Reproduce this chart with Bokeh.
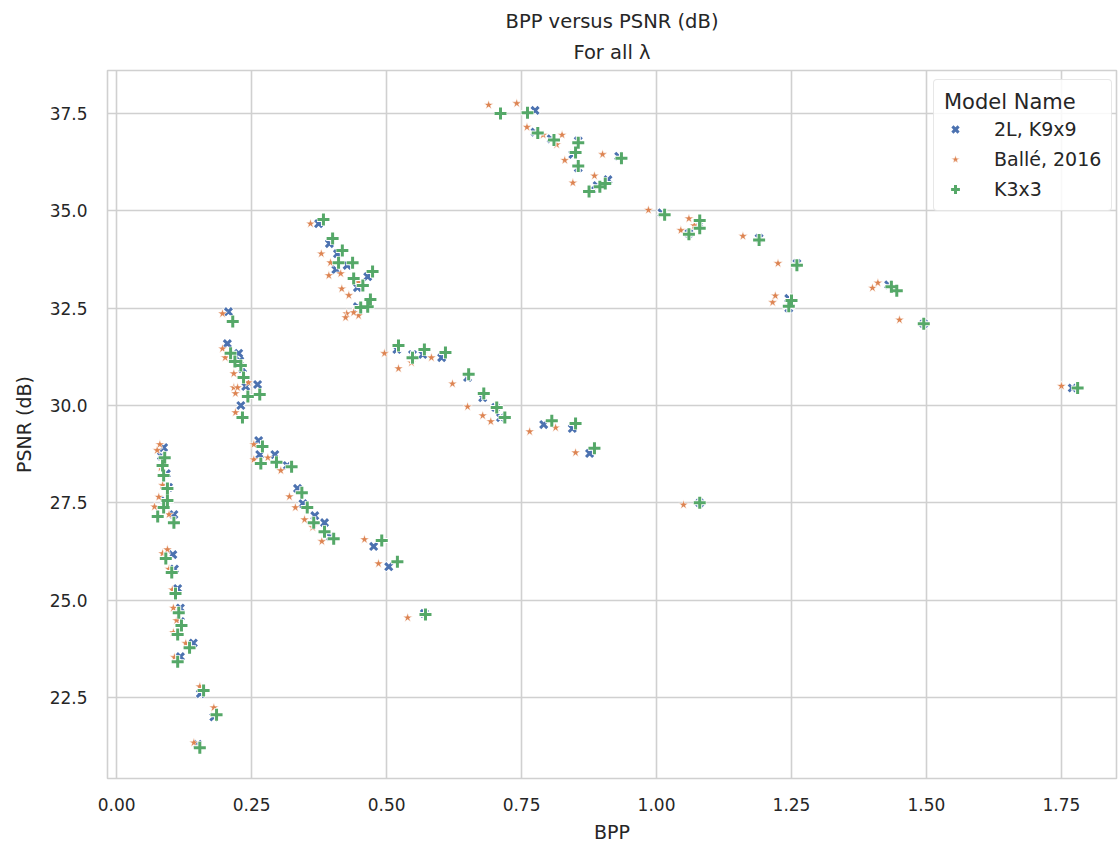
from bokeh.plotting import figure
from bokeh.models import Range1d, FixedTicker, NumeralTickFormatter, Legend, LegendItem, ColumnDataSource, Title
from bokeh.embed import file_html
from bokeh.resources import INLINE

# ---------------- data ----------------
series_names = ["2L, K9x9", "Ballé, 2016", "K3x3"]

blue_bpp = [0.087, 0.083, 0.092, 0.096, 0.090, 0.106,
            0.104, 0.107, 0.113, 0.118, 0.118, 0.142, 0.118, 0.155, 0.180, 0.150,
            0.207, 0.205, 0.226, 0.233, 0.261, 0.239, 0.230, 0.228,
            0.263, 0.265, 0.293, 0.316, 0.335, 0.345, 0.367, 0.385, 0.396, 0.476, 0.504, 0.570,
            0.374, 0.394, 0.409, 0.427, 0.406, 0.465, 0.446, 0.446,
            0.519, 0.548, 0.567, 0.602, 0.650, 0.678, 0.702, 0.711, 0.791, 0.844, 0.876,
            0.775, 0.775, 0.805, 0.855, 0.845, 0.855, 0.880, 0.890, 0.910, 0.930,
            1.010, 1.060, 1.080, 1.190, 1.260, 1.245, 1.245,
            1.430, 1.495, 1.770, 1.080]
blue_psnr = [28.92, 28.70, 28.25, 27.90, 27.55, 27.20,
             26.17, 25.80, 25.30, 24.80, 24.45, 23.90, 23.55, 22.60, 22.00, 21.30,
             32.41, 31.59, 31.34, 30.95, 30.54, 30.49, 30.00, 31.15,
             29.10, 28.74, 28.74, 28.46, 27.87, 27.48, 27.17, 26.99, 26.63, 26.38, 25.86, 24.66,
             34.67, 34.16, 33.90, 33.60, 33.49, 33.31, 33.03, 32.54,
             31.44, 31.31, 31.31, 31.23, 30.72, 30.20, 29.95, 29.69, 29.51, 29.41, 28.77,
             37.58, 37.02, 36.85, 36.80, 36.45, 36.10, 35.55, 35.65, 35.80, 36.40,
             34.95, 34.42, 34.65, 34.30, 33.65, 32.75, 32.50,
             33.10, 32.10, 30.45, 27.50]

orange_bpp = [0.080, 0.075, 0.082, 0.085, 0.070, 0.097, 0.078,
              0.094, 0.085, 0.097, 0.103, 0.105, 0.111, 0.105, 0.128, 0.107, 0.154, 0.180, 0.143,
              0.196, 0.196, 0.201, 0.217, 0.244, 0.217, 0.224, 0.220, 0.220,
              0.254, 0.254, 0.280, 0.304, 0.320, 0.331, 0.348, 0.363, 0.380, 0.459, 0.485, 0.539,
              0.359, 0.379, 0.396, 0.415, 0.393, 0.448, 0.417, 0.430, 0.426, 0.424, 0.448, 0.439,
              0.496, 0.522, 0.546, 0.583, 0.622, 0.650, 0.678, 0.693, 0.765, 0.813, 0.850,
              0.689, 0.741, 0.760, 0.790, 0.815, 0.825, 0.830, 0.845, 0.885, 0.900,
              0.985, 1.045, 1.060, 1.070, 1.160, 1.225, 1.215, 1.220,
              1.400, 1.410, 1.450, 1.750, 1.050]
orange_psnr = [29.00, 28.85, 28.40, 27.95, 27.40, 27.20, 27.65,
               26.30, 26.20, 25.80, 25.27, 24.80, 24.48, 24.17, 23.89, 23.53, 22.78, 22.24, 21.34,
               32.36, 31.46, 31.23, 30.82, 30.59, 30.46, 30.46, 30.31, 29.82,
               29.00, 28.61, 28.66, 28.33, 27.66, 27.38, 27.07, 26.87, 26.51, 26.56, 25.94, 24.55,
               34.67, 33.90, 33.67, 33.39, 33.34, 33.16, 33.00, 32.83, 32.36, 32.26, 32.31, 32.39,
               31.34, 30.95, 31.10, 31.23, 30.56, 29.97, 29.74, 29.59, 29.33, 29.43, 28.79,
               37.72, 37.76, 37.15, 36.95, 36.70, 36.95, 36.30, 35.72, 35.90, 36.45,
               35.02, 34.50, 34.80, 34.62, 34.35, 33.65, 32.65, 32.82,
               33.02, 33.15, 32.20, 30.50, 27.45]

green_bpp = [0.089, 0.085, 0.087, 0.094, 0.094, 0.087, 0.076, 0.106,
             0.091, 0.102, 0.109, 0.115, 0.120, 0.113, 0.135, 0.113, 0.161, 0.185, 0.154,
             0.215, 0.211, 0.219, 0.230, 0.235, 0.265, 0.243, 0.233,
             0.270, 0.267, 0.296, 0.324, 0.343, 0.353, 0.365, 0.385, 0.402, 0.491, 0.520, 0.572,
             0.383, 0.400, 0.418, 0.411, 0.437, 0.439, 0.474, 0.456, 0.470, 0.465, 0.452,
             0.522, 0.548, 0.570, 0.609, 0.652, 0.680, 0.704, 0.719, 0.806, 0.850, 0.885,
             0.711, 0.761, 0.780, 0.810, 0.855, 0.850, 0.855, 0.875, 0.895, 0.905, 0.935,
             1.015, 1.060, 1.080, 1.080, 1.190, 1.260, 1.250, 1.245,
             1.435, 1.445, 1.495, 1.780, 1.080]
green_psnr = [28.66, 28.46, 28.20, 27.87, 27.56, 27.38, 27.15, 26.99,
              26.07, 25.71, 25.17, 24.68, 24.35, 24.12, 23.78, 23.42, 22.68, 22.06, 21.21,
              32.16, 31.34, 31.13, 31.03, 30.72, 30.28, 30.23, 29.69,
              28.95, 28.51, 28.54, 28.43, 27.76, 27.38, 26.99, 26.76, 26.58, 26.53, 25.99, 24.63,
              34.78, 34.29, 33.98, 33.67, 33.67, 33.26, 33.44, 33.08, 32.72, 32.54, 32.52,
              31.54, 31.23, 31.44, 31.36, 30.80, 30.31, 29.95, 29.69, 29.61, 29.54, 28.90,
              37.50, 37.52, 37.00, 36.82, 36.75, 36.50, 36.15, 35.50, 35.62, 35.70, 36.35,
              34.90, 34.40, 34.75, 34.55, 34.25, 33.60, 32.70, 32.55,
              33.05, 32.95, 32.10, 30.45, 27.50]

x_ticks = [0.0, 0.25, 0.5, 0.75, 1.0, 1.25, 1.5, 1.75]
y_ticks = [22.5, 25.0, 27.5, 30.0, 32.5, 35.0, 37.5]
title_line1 = "BPP versus PSNR (dB)"
title_line2 = "For all λ"

# ---------------- figure ----------------
TXT = "#262626"
GRID = "#d0d0d0"
FONT = "DejaVu Sans"

p = figure(width=1118, height=849, output_backend="svg", toolbar_location=None,
           x_range=Range1d(-0.017, 1.852), y_range=Range1d(20.42, 38.605),
           min_border_left=107, min_border_right=2, min_border_top=70, min_border_bottom=71)

sub = Title(text=title_line2, align="center", text_font=FONT, text_font_size="19.5px",
            text_font_style="normal", text_color=TXT, standoff=13)
main = Title(text=title_line1, align="center", text_font=FONT, text_font_size="19.5px",
             text_font_style="normal", text_color=TXT, standoff=0)
p.add_layout(sub, "above")
p.add_layout(main, "above")

p.background_fill_color = "white"
p.border_fill_color = "white"
p.outline_line_color = GRID
p.outline_line_width = 1.6

for ax in (p.xaxis, p.yaxis):
    ax.axis_line_color = None
    ax.major_tick_line_color = None
    ax.minor_tick_line_color = None
    ax.major_label_text_font = FONT
    ax.major_label_text_font_size = "17px"
    ax.major_label_text_color = TXT
    ax.axis_label_text_font = FONT
    ax.axis_label_text_font_size = "19px"
    ax.axis_label_text_font_style = "normal"
    ax.axis_label_text_color = TXT

p.xaxis.ticker = FixedTicker(ticks=x_ticks)
p.yaxis.ticker = FixedTicker(ticks=y_ticks)
p.xaxis.formatter = NumeralTickFormatter(format="0.00")
p.yaxis.formatter = NumeralTickFormatter(format="0.0")
p.xaxis.axis_label = "BPP"
p.yaxis.axis_label = "PSNR (dB)"
p.xaxis.major_label_standoff = 13
p.yaxis.major_label_standoff = 14
p.xaxis.axis_label_standoff = 7
p.yaxis.axis_label_standoff = 12

p.xgrid.grid_line_color = GRID
p.ygrid.grid_line_color = GRID
p.xgrid.grid_line_width = 1.6
p.ygrid.grid_line_width = 1.6

BLUE = "#4c72b0"
ORANGE = "#dd8452"
GREEN = "#55a868"

src_b = ColumnDataSource(dict(x=blue_bpp, y=blue_psnr))
src_o = ColumnDataSource(dict(x=orange_bpp, y=orange_psnr))
src_g = ColumnDataSource(dict(x=green_bpp, y=green_psnr))

# white halos (edges)
p.scatter("x", "y", source=src_b, marker="x", size=11, line_width=5, line_color="white")
rb = p.scatter("x", "y", source=src_b, marker="x", size=10, line_width=3, line_color=BLUE)
ro = p.scatter("x", "y", source=src_o, marker="star", size=10, fill_color=ORANGE,
               line_color="white", line_width=0.6)
p.scatter("x", "y", source=src_g, marker="cross", size=13, line_width=5, line_color="white")
rg = p.scatter("x", "y", source=src_g, marker="cross", size=12, line_width=3, line_color=GREEN)

legend = Legend(items=[LegendItem(label=series_names[0], renderers=[rb]),
                       LegendItem(label=series_names[1], renderers=[ro]),
                       LegendItem(label=series_names[2], renderers=[rg])],
                location=(826, 567))
legend.title = "Model Name"
legend.title_text_font = FONT
legend.title_text_font_size = "21px"
legend.title_text_font_style = "normal"
legend.title_text_color = TXT
legend.title_standoff = 4
legend.label_text_font = FONT
legend.label_text_font_size = "19px"
legend.label_text_color = TXT
legend.label_height = 22
legend.glyph_height = 22
legend.glyph_width = 22
legend.label_standoff = 28
legend.spacing = 8
legend.padding = 10
legend.margin = 0
legend.border_line_color = GRID
legend.border_line_width = 1.2
legend.border_radius = 4
legend.background_fill_color = "white"
legend.background_fill_alpha = 0.85
p.add_layout(legend)

open("out.html", "w").write(file_html(p, INLINE))
